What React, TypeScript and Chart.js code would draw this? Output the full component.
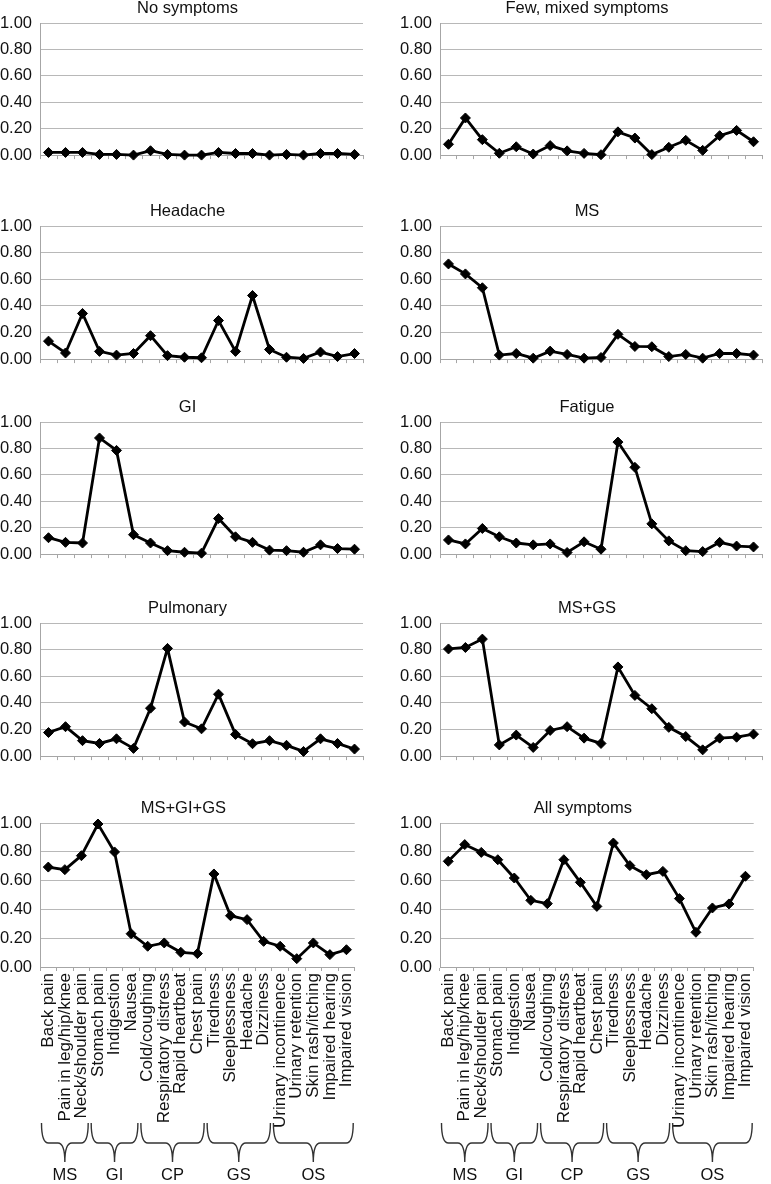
import React, { useEffect, useRef } from "react";
import { Chart, registerables } from "chart.js";

Chart.register(...registerables);

// ---------- data ----------
const symptoms = [
  "Back pain",
  "Pain in leg/hip/knee",
  "Neck/shoulder pain",
  "Stomach pain",
  "Indigestion",
  "Nausea",
  "Cold/coughing",
  "Respiratory distress",
  "Rapid heartbeat",
  "Chest pain",
  "Tiredness",
  "Sleeplessness",
  "Headache",
  "Dizziness",
  "Urinary incontinence",
  "Urinary retention",
  "Skin rash/itching",
  "Impaired hearing",
  "Impaired vision",
];

const groupNames = ["MS", "GI", "CP", "GS", "OS"];
const groupSizes = [3, 3, 4, 4, 5];

const yTickValues = [0, 0.2, 0.4, 0.6, 0.8, 1.0];

const panelTitles = [
  "No symptoms",
  "Few, mixed symptoms",
  "Headache",
  "MS",
  "GI",
  "Fatigue",
  "Pulmonary",
  "MS+GS",
  "MS+GI+GS",
  "All symptoms",
];

const noSymptoms = [0.02, 0.02, 0.02, 0.005, 0.005, 0.0, 0.033, 0.005, 0.0, 0.0, 0.02, 0.012, 0.012, 0.0, 0.005, 0.0, 0.012, 0.012, 0.005];
const fewMixed = [0.082, 0.281, 0.117, 0.014, 0.063, 0.008, 0.072, 0.032, 0.013, 0.003, 0.176, 0.129, 0.004, 0.059, 0.112, 0.036, 0.147, 0.187, 0.101];
const headache = [0.135, 0.046, 0.343, 0.058, 0.030, 0.042, 0.176, 0.026, 0.014, 0.010, 0.290, 0.058, 0.478, 0.072, 0.014, 0.005, 0.053, 0.019, 0.042];
const ms = [0.715, 0.640, 0.536, 0.030, 0.042, 0.007, 0.060, 0.035, 0.007, 0.012, 0.186, 0.095, 0.093, 0.019, 0.035, 0.007, 0.042, 0.042, 0.030];
const gi = [0.124, 0.089, 0.084, 0.879, 0.785, 0.147, 0.084, 0.026, 0.014, 0.007, 0.269, 0.131, 0.089, 0.030, 0.026, 0.014, 0.070, 0.042, 0.037];
const fatigue = [0.107, 0.077, 0.194, 0.131, 0.084, 0.070, 0.077, 0.012, 0.093, 0.037, 0.848, 0.657, 0.229, 0.100, 0.026, 0.019, 0.089, 0.061, 0.054];
const pulmonary = [0.177, 0.221, 0.116, 0.095, 0.130, 0.058, 0.360, 0.809, 0.256, 0.205, 0.465, 0.163, 0.093, 0.116, 0.081, 0.035, 0.130, 0.095, 0.053];
const msGs = [0.805, 0.816, 0.879, 0.084, 0.158, 0.065, 0.193, 0.221, 0.135, 0.095, 0.670, 0.456, 0.356, 0.216, 0.147, 0.047, 0.135, 0.142, 0.165];
const msGiGs = [0.694, 0.676, 0.773, 0.993, 0.799, 0.231, 0.144, 0.167, 0.102, 0.093, 0.646, 0.356, 0.329, 0.178, 0.144, 0.058, 0.167, 0.086, 0.120];
const allSymptoms = [0.734, 0.850, 0.796, 0.745, 0.618, 0.463, 0.440, 0.745, 0.588, 0.421, 0.861, 0.704, 0.641, 0.664, 0.475, 0.241, 0.410, 0.438, 0.630];

const panelData = [noSymptoms, fewMixed, headache, ms, gi, fatigue, pulmonary, msGs, msGiGs, allSymptoms];

// ---------- layout / style ----------
const FONT = "'Liberation Sans', Arial, Helvetica, sans-serif";
const TEXT = "#111111";
const GRID = "#b8b8b8";
const AXIS = "#a6a6a6";

const rowPlotTop = [23, 226, 422, 623, 823];
const rowPlotBottom = [165, 369, 564, 766, 967];
const colLeft = [0, 385];
const colWidth = [369, 383];
const colYAxisW = [40, 55];
const TOP_PAD = 30;
const PAGE_H = 1184;

type PanelProps = { index: number };

function Panel({ index }: PanelProps) {
  const ref = useRef<HTMLCanvasElement | null>(null);
  const row = Math.floor(index / 2);
  const col = index % 2;
  const isBottom = row === 4;
  const canvasTop = rowPlotTop[row] - TOP_PAD;
  const plotH = rowPlotBottom[row] - rowPlotTop[row];
  const xAxisH = isBottom ? 160 : 6;
  const bottomPad = isBottom ? PAGE_H - canvasTop - TOP_PAD - plotH - xAxisH : 2;
  const height = TOP_PAD + plotH + xAxisH + bottomPad;
  const width = colWidth[col];

  useEffect(() => {
    if (!ref.current) return;
    const title = panelTitles[index];

    const titlePlugin = {
      id: "panelTitle",
      afterDraw(chart: any) {
        const { ctx, chartArea } = chart;
        ctx.save();
        ctx.font = `16.5px ${FONT}`;
        ctx.fillStyle = TEXT;
        ctx.textAlign = "center";
        ctx.textBaseline = "middle";
        ctx.fillText(title, (chartArea.left + chartArea.right) / 2 - 14, chartArea.top - 15);
        ctx.restore();
      },
    };

    const bracePlugin = {
      id: "groupBraces",
      afterDraw(chart: any) {
        if (!isBottom) return;
        const { ctx, chartArea } = chart;
        const xs = chart.scales.x;
        const b = chartArea.bottom;
        const y0 = b + 156;
        const y1 = b + 176;
        const y2 = b + 195;
        const r = 7;
        ctx.save();
        ctx.strokeStyle = "#333333";
        ctx.lineWidth = 1.4;
        ctx.fillStyle = TEXT;
        ctx.font = `16.5px ${FONT}`;
        ctx.textAlign = "center";
        ctx.textBaseline = "alphabetic";
        let start = 0;
        groupSizes.forEach((n, gi) => {
          const xa = xs.getPixelForValue(start - 0.5) + 1.5;
          const xb = xs.getPixelForValue(start + n - 0.5) - 1.5;
          const xm = (xa + xb) / 2;
          ctx.beginPath();
          ctx.moveTo(xa, y0);
          ctx.quadraticCurveTo(xa, y1, xa + r, y1);
          ctx.lineTo(xm - r, y1);
          ctx.quadraticCurveTo(xm, y1, xm, y2);
          ctx.quadraticCurveTo(xm, y1, xm + r, y1);
          ctx.lineTo(xb - r, y1);
          ctx.quadraticCurveTo(xb, y1, xb, y0);
          ctx.stroke();
          ctx.fillText(groupNames[gi], xm, b + 213);
          start += n;
        });
        ctx.restore();
      },
    };

    const chart = new Chart(ref.current, {
      type: "line",
      data: {
        labels: symptoms,
        datasets: [
          {
            data: panelData[index],
            borderColor: "#000000",
            backgroundColor: "#000000",
            borderWidth: 2.8,
            pointStyle: "rectRot",
            pointRadius: 5,
            pointBorderWidth: 1,
            pointBackgroundColor: "#000000",
            pointBorderColor: "#000000",
            tension: 0,
            clip: false as any,
          },
        ],
      },
      options: {
        animation: false,
        responsive: false,
        maintainAspectRatio: false,
        layout: { padding: { top: TOP_PAD, bottom: bottomPad, left: 0, right: 0 } },
        plugins: {
          legend: { display: false },
          title: { display: false },
          tooltip: { enabled: false },
        },
        scales: {
          x: {
            type: "category",
            offset: true,
            grid: {
              offset: true,
              drawOnChartArea: false,
              drawTicks: true,
              tickLength: 4,
              color: AXIS,
            },
            border: { display: true, color: AXIS, width: 1 },
            ticks: {
              display: isBottom,
              autoSkip: false,
              maxRotation: 90,
              minRotation: 90,
              padding: 2,
              color: TEXT,
              font: { family: FONT, size: 17 },
            },
            afterFit(scale: any) {
              scale.height = xAxisH;
            },
          },
          y: {
            min: 0,
            max: 1,
            afterBuildTicks(scale: any) {
              scale.ticks = yTickValues.map((v) => ({ value: v }));
            },
            grid: { color: GRID, drawTicks: false, lineWidth: 1 },
            border: { display: true, color: AXIS, width: 1 },
            ticks: {
              padding: 8,
              color: TEXT,
              font: { family: FONT, size: 16.5 },
              callback: (v: any) => Number(v).toFixed(2),
            },
            afterFit(scale: any) {
              scale.width = colYAxisW[col];
            },
          },
        },
      },
      plugins: [titlePlugin, bracePlugin],
    });
    return () => chart.destroy();
  }, [index]);

  return (
    <canvas
      ref={ref}
      width={width}
      height={height}
      style={{
        position: "absolute",
        left: colLeft[col],
        top: canvasTop,
        width,
        height,
      }}
    />
  );
}

export default function App() {
  return (
    <div
      style={{
        position: "absolute",
        left: 0,
        top: 0,
        width: 771,
        height: PAGE_H,
        background: "#ffffff",
        overflow: "hidden",
      }}
    >
      {panelTitles.map((_, i) => (
        <Panel key={i} index={i} />
      ))}
    </div>
  );
}
